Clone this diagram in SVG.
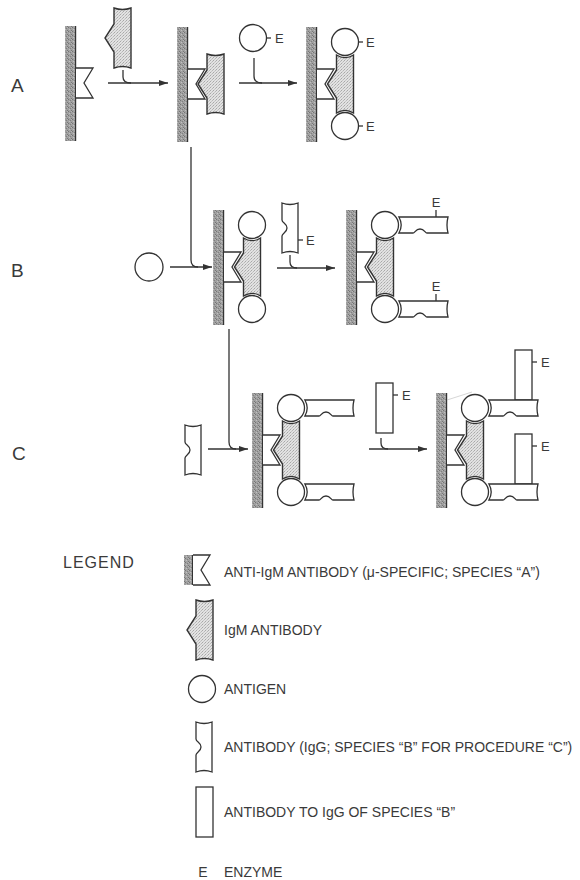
<svg xmlns="http://www.w3.org/2000/svg" width="580" height="880" viewBox="0 0 580 880">
<style>
.ln{fill:#fff;stroke:#333;stroke-width:1.3;stroke-linejoin:miter}
.igm{fill:url(#igmP);stroke:#333;stroke-width:1.4}
.con{fill:none;stroke:#333;stroke-width:1.3}
.t{font-family:"Liberation Sans",Arial,sans-serif;fill:#3a3a3a}
.row{font-size:19px}
.e{font-size:13px}
.leg{font-size:14px}
</style>
<defs>
<pattern id="wallP" width="4" height="4" patternUnits="userSpaceOnUse">
<rect width="4" height="4" fill="#a0a0a0"/>
<rect x="0" y="0" width="1" height="1" fill="#747474"/>
<rect x="2" y="1" width="1" height="1" fill="#808080"/>
<rect x="1" y="2" width="1" height="1" fill="#c0c0c0"/>
<rect x="3" y="3" width="1" height="1" fill="#777"/>
<rect x="3" y="0" width="1" height="1" fill="#b5b5b5"/>
</pattern>
<pattern id="igmP" width="3" height="3" patternUnits="userSpaceOnUse">
<rect width="3" height="3" fill="#e2e2e2"/>
<rect x="0" y="0" width="1" height="1" fill="#a8a8a8"/>
<rect x="2" y="1" width="1" height="1" fill="#b8b8b8"/>
<rect x="1" y="2" width="1" height="1" fill="#c6c6c6"/>
</pattern>
<marker id="ah" viewBox="0 0 9 6" refX="9" refY="3" markerWidth="9" markerHeight="6" markerUnits="userSpaceOnUse" orient="auto">
<path d="M0,0 L9,3 L0,6 Z" fill="#333"/>
</marker>
<g id="wall"><rect x="-11" y="-57" width="11" height="115" fill="url(#wallP)"/><line x1="-0.4" y1="-57" x2="-0.4" y2="58" stroke="#333" stroke-width="1.2"/></g>
<path id="antiIgM" class="ln" d="M0,-15 H17 L8,0 L17,15 H0"/>
<path id="igm" class="igm" d="M0,-30 Q8.5,-27 17,-30 V30 Q8.5,27 0,30 V14 L-9,0 L0,-14 Z"/>
<path id="igmA" class="igm" d="M19.5,-29 A15.5,15.5 0 0 0 36.5,-29 V29 A15.5,15.5 0 0 0 19.5,29 V14 L10.5,0 L19.5,-14 Z"/>
<circle id="ag" class="ln" r="13.5"/>
<path id="iggH" class="ln" d="M13.9,-8 H63 Q61,0 63,8 H42 C40,8 39.5,4 35,4 C30.5,4 30,8 28,8 H13.9 A16,16 0 0 0 13.9,-8 Z"/>
<path id="iggV" class="ln" d="M0,0 Q8,3 16,0 V50 Q8,47 0,50 V33 C0,30 5,29.5 5,25 C5,20.5 0,20 0,17 Z"/>
<rect id="aigg" class="ln" width="17" height="50"/>
<g id="agPair"><use href="#ag" x="28" y="-42"/><use href="#ag" x="28" y="42"/></g>
</defs>
<rect width="580" height="880" fill="#fff"/>

<!-- row labels -->
<text class="t row" x="11" y="92">A</text>
<text class="t row" x="11" y="277">B</text>
<text class="t row" x="12" y="460">C</text>

<!-- connectors -->
<g id="connectors">
<line class="con" x1="108" y1="83" x2="168" y2="83" marker-end="url(#ah)"/>
<path class="con" d="M123,70 V77 Q123,83 131,83"/>
<line class="con" x1="239" y1="83" x2="297" y2="83" marker-end="url(#ah)"/>
<path class="con" d="M254,58 V76 Q254,83 262,83"/>
<line class="con" x1="170" y1="267" x2="212" y2="267" marker-end="url(#ah)"/>
<path class="con" d="M191,147 V260 Q191,267 198,267"/>
<line class="con" x1="277" y1="268" x2="335" y2="268" marker-end="url(#ah)"/>
<path class="con" d="M290,255 V262 Q290,268 297,268"/>
<line class="con" x1="208" y1="449" x2="248" y2="449" marker-end="url(#ah)"/>
<path class="con" d="M229,329 V442 Q229,449 236,449"/>
<line class="con" x1="369" y1="449" x2="427" y2="449" marker-end="url(#ah)"/>
<path class="con" d="M381,438 V443 Q381,449 388,449"/>
</g>

<!-- Row A -->
<g id="a1" transform="translate(76,83)"><use href="#wall"/><use href="#antiIgM"/></g>
<g id="a-igm" transform="translate(114,38)"><use href="#igm"/></g>
<g id="a2" transform="translate(188,84)"><use href="#wall"/><use href="#antiIgM"/><use href="#igm" x="19"/></g>
<g id="a-ag">
<circle class="ln" cx="253" cy="38" r="13.5"/>
<line class="con" x1="266.5" y1="38" x2="271" y2="38"/>
<text class="t e" x="275" y="43">E</text>
</g>
<g id="a3" transform="translate(317,84)"><use href="#wall"/><use href="#antiIgM"/><use href="#igmA"/><use href="#agPair"/>
<line class="con" x1="41.5" y1="-42" x2="46" y2="-42"/><text class="t e" x="49" y="-37">E</text>
<line class="con" x1="41.5" y1="42" x2="46" y2="42"/><text class="t e" x="49" y="47">E</text>
</g>

<!-- Row B -->
<g id="b-ag"><circle class="ln" cx="149" cy="267" r="14"/></g>
<g id="b1" transform="translate(224,267)"><use href="#wall"/><use href="#antiIgM"/><use href="#igmA"/><use href="#agPair"/></g>
<g id="b-igg" transform="translate(282,203)"><use href="#iggV"/>
<line class="con" x1="16" y1="37" x2="21" y2="37"/><text class="t e" x="24" y="42">E</text></g>
<g id="b2" transform="translate(357,267)"><use href="#wall"/><use href="#antiIgM"/>
<use href="#iggH" x="28" y="-42"/><use href="#iggH" x="28" y="42"/>
<use href="#igmA"/><use href="#agPair"/>
<line class="con" x1="79" y1="-50" x2="79" y2="-57"/><text class="t e" x="79" y="-60" text-anchor="middle">E</text>
<line class="con" x1="79" y1="34" x2="79" y2="27"/><text class="t e" x="79" y="24" text-anchor="middle">E</text>
</g>

<!-- Row C -->
<g id="c-igg" transform="translate(185,425)"><use href="#iggV"/></g>
<g id="c1" transform="translate(263,450)"><use href="#wall"/><use href="#antiIgM"/>
<use href="#iggH" x="28" y="-42"/><use href="#iggH" x="28" y="42"/>
<use href="#igmA"/><use href="#agPair"/></g>
<g id="c-aigg" transform="translate(376,383)"><use href="#aigg"/>
<line class="con" x1="17" y1="12" x2="22" y2="12"/><text class="t e" x="26" y="17">E</text></g>
<g id="c2" transform="translate(447,450)"><use href="#wall"/><use href="#antiIgM"/>
<line x1="0" y1="-50" x2="25" y2="-58" stroke="#bbb" stroke-width="0.6"/>
<use href="#aigg" x="68" y="-100"/><use href="#aigg" x="68" y="-16"/>
<use href="#iggH" x="28" y="-42"/><use href="#iggH" x="28" y="42"/>
<use href="#igmA"/><use href="#agPair"/>
<line class="con" x1="85" y1="-88" x2="90" y2="-88"/><text class="t e" x="94" y="-83">E</text>
<line class="con" x1="85" y1="-4" x2="90" y2="-4"/><text class="t e" x="94" y="1">E</text>
</g>

<!-- Legend -->
<g id="legend">
<text class="t" x="63" y="568" font-size="16" letter-spacing="1">LEGEND</text>
<g id="leg-antiigm" transform="translate(193,570)"><rect x="-9" y="-15" width="9" height="30" fill="url(#wallP)"/><line x1="-0.4" y1="-15" x2="-0.4" y2="15" stroke="#333" stroke-width="1.2"/><use href="#antiIgM"/></g>
<text class="t leg" x="224" y="577">ANTI-IgM ANTIBODY (μ-SPECIFIC; SPECIES “A”)</text>
<g id="leg-igm" transform="translate(196,630)"><use href="#igm"/></g>
<text class="t leg" x="224" y="635">IgM ANTIBODY</text>
<g id="leg-ag"><circle class="ln" cx="202" cy="689" r="13.5"/></g>
<text class="t leg" x="224" y="694">ANTIGEN</text>
<g id="leg-igg" transform="translate(196,722)"><use href="#iggV"/></g>
<text class="t leg" x="224" y="752">ANTIBODY (IgG; SPECIES “B” FOR PROCEDURE “C”)</text>
<g id="leg-aigg" transform="translate(196,787)"><use href="#aigg"/></g>
<text class="t leg" x="224" y="817">ANTIBODY TO IgG OF SPECIES “B”</text>
<text class="t leg" x="203" y="877" text-anchor="middle">E</text>
<text class="t leg" x="224" y="877">ENZYME</text>
</g>
</svg>
